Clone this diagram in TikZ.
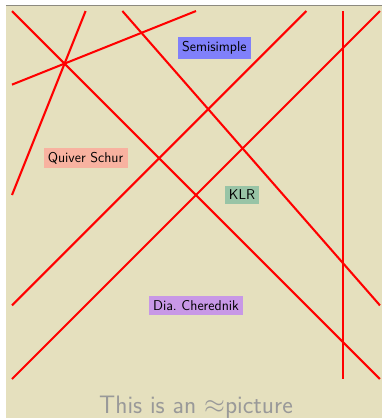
\documentclass[tikz,border=0pt]{standalone}
\usepackage{amssymb}
\definecolor{bgbeige}{HTML}{E5E0BE}
\definecolor{topgray}{HTML}{8C8A80}
\definecolor{semiblue}{HTML}{8080FA}
\definecolor{quiverpink}{HTML}{F8B2A0}
\definecolor{klrgreen}{HTML}{98C4A6}
\definecolor{diapurple}{HTML}{C898E6}
\tikzset{
  redline/.style={draw=red, line width=1.6pt},
  lbl/.style={font=\sffamily\fontsize{11}{13}\selectfont, inner sep=3.3pt, text=black},
}
\begin{document}
\begin{tikzpicture}
\useasboundingbox (-0.326,-1.06) rectangle (10.054,10.30);
\fill[bgbeige] (-0.163,-1.06) rectangle (10.054,10.16);
\draw[topgray, line width=1pt] (-0.163,10.16) -- (10.054,10.16);
\coordinate (a1) at (0,10); \coordinate (b1) at (10,0);
\coordinate (a2) at (3,10); \coordinate (b2) at (10,2);
\coordinate (a3) at (2,10); \coordinate (b3) at (0,5);
\coordinate (a4) at (0,8); \coordinate (b4) at (5,10);
\coordinate (a5) at (8,10); \coordinate (b5) at (0,2);
\coordinate (a6) at (10,10); \coordinate (b6) at (0,0);
\coordinate (a7) at (9,10); \coordinate (b7) at (9,0);
\foreach \i in {1,...,7} { \draw[redline] (a\i) -- (b\i); }
\node[lbl, fill=semiblue] (semi) at (5.5,9) {Semisimple};
\node[lbl, fill=quiverpink] (quiv) at (2,6) {Quiver Schur};
\node[lbl, fill=klrgreen] (klr) at (6.25,5) {KLR};
\node[lbl, fill=diapurple] (dia) at (5,2) {Dia.\ Cherednik};
\node[font=\sffamily\fontsize{19.5}{22}\selectfont, text=black!40] (cap) at (5,-0.76) {This is an $\approx$picture};
\end{tikzpicture}
\end{document}
